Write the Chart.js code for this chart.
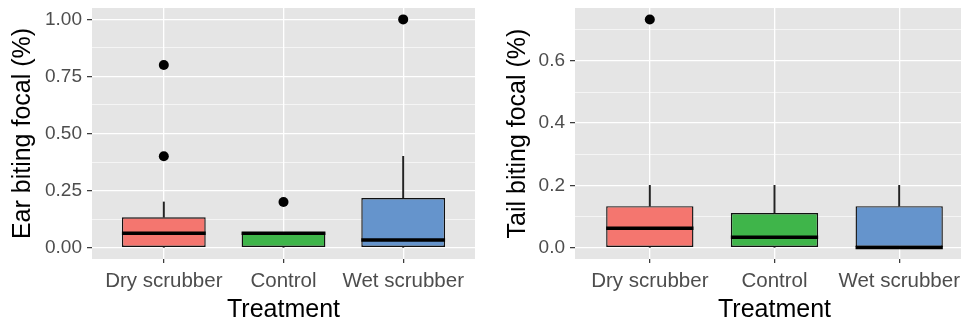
<!DOCTYPE html>
<html>
<head>
<meta charset="utf-8">
<script src="https://cdn.jsdelivr.net/npm/chart.js@4"></script>
<style>
  html, body { margin: 0; padding: 0; background: #ffffff; overflow: hidden; }
  #wrap { position: relative; width: 961px; height: 323px; overflow: hidden; }
  #box-ear { position: absolute; left: 0; top: 0; width: 480px; height: 323px; }
  #box-tail { position: absolute; left: 480px; top: 0; width: 500px; height: 323px; }
</style>
</head>
<body>
<div id="wrap">
  <div id="box-ear"><canvas id="ear-chart"></canvas></div>
  <div id="box-tail"><canvas id="tail-chart"></canvas></div>
</div>
<script>
// Treatments (x axis) and box colours
const treatments = ['Dry scrubber', 'Control', 'Wet scrubber'];
const boxColors = ['#F4766F', '#3FB54A', '#6594CC'];

// Ear biting focal (%) - box stats per treatment
const earLow    = [0, 0, 0];           // lower whisker end
const earQ1     = [0, 0, 0];
const earMedian = [0.0625, 0.0625, 0.0333];
const earQ3     = [0.133, 0.0667, 0.217];
const earHigh   = [0.2, 0.0667, 0.4];  // upper whisker end
const earOutX   = ['Dry scrubber', 'Dry scrubber', 'Control', 'Wet scrubber'];
const earOutY   = [0.8, 0.4, 0.2, 1.0];
const earTicks  = [0, 0.25, 0.5, 0.75, 1.0];
const earMinor  = [0.125, 0.375, 0.625, 0.875];
const earLabels = ['0.00', '0.25', '0.50', '0.75', '1.00'];

// Tail biting focal (%)
const tailLow    = [0, 0, 0];
const tailQ1     = [0, 0, 0];
const tailMedian = [0.0625, 0.0333, 0];
const tailQ3     = [0.133, 0.111, 0.133];
const tailHigh   = [0.2, 0.2, 0.2];
const tailOutX   = ['Dry scrubber'];
const tailOutY   = [0.733];
const tailTicks  = [0, 0.2, 0.4, 0.6];
const tailMinor  = [0.1, 0.3, 0.5, 0.7];
const tailLabels = ['0.0', '0.2', '0.4', '0.6'];

const FONT = "'Liberation Sans', Arial, sans-serif";

// grey panel behind the grid (like ggplot theme_grey)
const panelBg = {
    id: 'panelBg',
    beforeDraw(chart) {
        const a = chart.chartArea;
        const ctx = chart.ctx;
        ctx.save();
        ctx.fillStyle = '#E5E5E5';
        ctx.fillRect(a.left, a.top, a.right - a.left, a.bottom - a.top);
        ctx.restore();
    }
};

// thick median line across each box
const medianLines = {
    id: 'medianLines',
    afterDatasetsDraw(chart) {
        const meta = chart.getDatasetMeta(0);  // box dataset
        const medians = chart.options.plugins.medianLines.values;
        const y = chart.scales.y;
        const ctx = chart.ctx;
        ctx.save();
        ctx.strokeStyle = '#000000';
        ctx.lineWidth = 3.5;
        meta.data.forEach((bar, i) => {
            const py = y.getPixelForValue(medians[i]);
            ctx.beginPath();
            ctx.moveTo(bar.x - bar.width / 2, py);
            ctx.lineTo(bar.x + bar.width / 2, py);
            ctx.stroke();
        });
        ctx.restore();
    }
};

function makeBoxChart(canvasId, o) {
    const xIdx = name => treatments.indexOf(name) + 1;
    const allTicks = o.ticks.concat(o.minor).sort((a, b) => a - b);
    const isMajor = v => o.ticks.some(t => Math.abs(t - v) < 1e-9);

    const boxData = treatments.map((t, i) => ({x: i + 1, y: [o.q1[i], o.q3[i]]}));
    const upperWhisker = treatments.map((t, i) => ({x: i + 1, y: [o.q3[i], o.high[i]]}));
    const lowerWhisker = treatments.map((t, i) => ({x: i + 1, y: [o.low[i], o.q1[i]]}));
    const outliers = o.outX.map((name, i) => ({x: xIdx(name), y: o.outY[i]}));

    return new Chart(document.getElementById(canvasId), {
        data: {
            datasets: [
                {
                    type: 'bar',
                    data: boxData,
                    backgroundColor: boxColors,
                    borderColor: '#111111',
                    borderWidth: 1.4,
                    borderSkipped: false,
                    grouped: false,
                    barPercentage: 0.7,
                    categoryPercentage: 1,
                    order: 1
                },
                {
                    type: 'bar',
                    data: upperWhisker,
                    backgroundColor: '#222222',
                    borderWidth: 0,
                    grouped: false,
                    barThickness: 1.3,
                    order: 2
                },
                {
                    type: 'bar',
                    data: lowerWhisker,
                    backgroundColor: '#222222',
                    borderWidth: 0,
                    grouped: false,
                    barThickness: 1.3,
                    order: 2
                },
                {
                    type: 'scatter',
                    data: outliers,
                    pointRadius: 5,
                    pointBackgroundColor: '#000000',
                    pointBorderWidth: 0,
                    order: 0
                }
            ]
        },
        options: {
            responsive: false,
            animation: false,
            events: [],
            layout: {
                padding: {top: 8, right: o.padRight, bottom: 0, left: 0}
            },
            scales: {
                x: {
                    type: 'linear',
                    min: 0.4,
                    max: 3.6,
                    offset: false,
                    afterBuildTicks: s => { s.ticks = treatments.map((t, i) => ({value: i + 1})); },
                    afterFit: s => { s.height = 64; s.paddingLeft = 0; s.paddingRight = 0; },
                    ticks: {
                        callback: v => treatments[Math.round(v) - 1],
                        font: {family: FONT, size: 20.5},
                        color: '#4D4D4D',
                        padding: 6,
                        maxRotation: 0,
                        autoSkip: false
                    },
                    grid: {
                        offset: false,
                        color: '#FFFFFF',
                        lineWidth: 1.3,
                        tickColor: '#333333',
                        tickLength: 4,
                        tickWidth: 1.2
                    },
                    border: {display: false},
                    title: {
                        display: true,
                        text: 'Treatment',
                        font: {family: FONT, size: 25, lineHeight: 1.05},
                        color: '#000000',
                        padding: {top: 0, bottom: 0}
                    }
                },
                y: {
                    type: 'linear',
                    min: o.yMin,
                    max: o.yMax,
                    afterBuildTicks: s => { s.ticks = allTicks.map(v => ({value: v})); },
                    afterFit: s => { s.width = o.yWidth; s.paddingTop = 0; s.paddingBottom = 0; },
                    ticks: {
                        callback: v => {
                            const k = o.ticks.findIndex(t => Math.abs(t - v) < 1e-9);
                            return k >= 0 ? o.labels[k] : '';
                        },
                        font: {family: FONT, size: 19},
                        color: '#4D4D4D',
                        padding: 5
                    },
                    grid: {
                        color: '#FFFFFF',
                        lineWidth: ctx => isMajor(ctx.tick.value) ? 1.3 : 0.6,
                        tickColor: ctx => isMajor(ctx.tick.value) ? '#333333' : 'rgba(0,0,0,0)',
                        tickLength: 5,
                        tickWidth: 1.2
                    },
                    border: {display: false},
                    title: {
                        display: true,
                        text: o.title,
                        font: {family: FONT, size: 25},
                        color: '#000000',
                        padding: {top: o.titlePad, bottom: 0}
                    }
                }
            },
            plugins: {
                legend: {display: false},
                tooltip: {enabled: false},
                medianLines: {values: o.median}
            }
        },
        plugins: [panelBg, medianLines]
    });
}

const earCanvas = document.getElementById('ear-chart');
earCanvas.width = 480; earCanvas.height = 323;
const tailCanvas = document.getElementById('tail-chart');
tailCanvas.width = 500; tailCanvas.height = 323;

makeBoxChart('ear-chart', {
    low: earLow, q1: earQ1, median: earMedian, q3: earQ3, high: earHigh,
    outX: earOutX, outY: earOutY,
    ticks: earTicks, minor: earMinor, labels: earLabels,
    yMin: -0.05, yMax: 1.05,
    title: 'Ear biting focal (%)',
    yWidth: 92, padRight: 2, titlePad: 8
});

makeBoxChart('tail-chart', {
    low: tailLow, q1: tailQ1, median: tailMedian, q3: tailQ3, high: tailHigh,
    outX: tailOutX, outY: tailOutY,
    ticks: tailTicks, minor: tailMinor, labels: tailLabels,
    yMin: -0.0367, yMax: 0.77,
    title: 'Tail biting focal (%)',
    yWidth: 95, padRight: 6, titlePad: 23
});
</script>
</body>
</html>
